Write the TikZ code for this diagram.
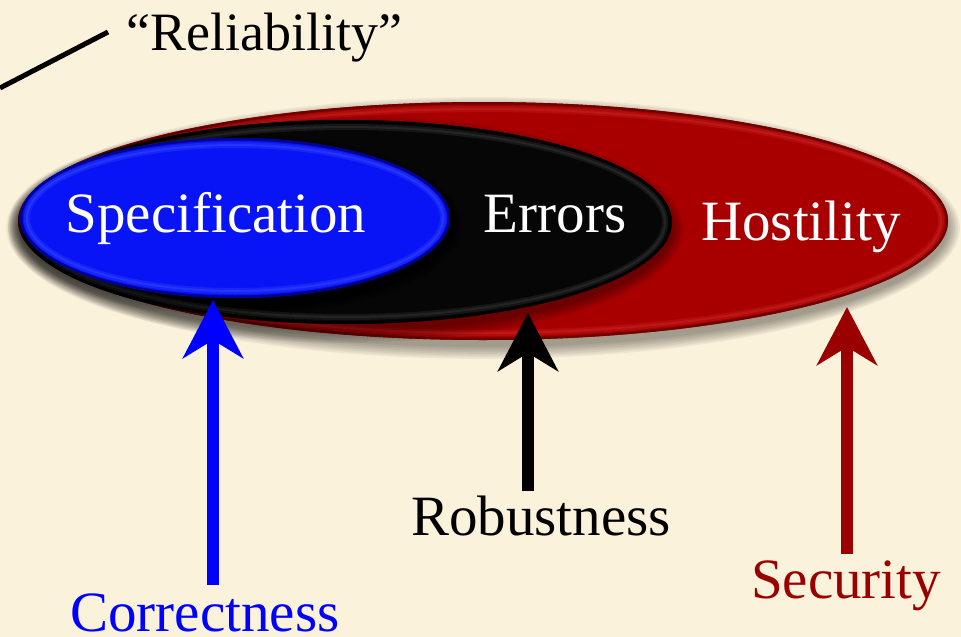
\documentclass[tikz,border=0pt]{standalone}
\usepackage{fontspec}
\setmainfont{Liberation Serif}
\usetikzlibrary{arrows.meta,shapes.geometric}
\definecolor{bg}{RGB}{251,242,220}
\definecolor{hred}{RGB}{168,0,0}
\definecolor{hredlight}{RGB}{215,50,50}
\definecolor{hreddark}{RGB}{110,0,0}
\definecolor{eblack}{RGB}{6,6,6}
\definecolor{eblacklight}{RGB}{70,70,70}
\definecolor{sblue}{RGB}{8,20,245}
\definecolor{sbluelight}{RGB}{70,90,255}
\definecolor{sbluedark}{RGB}{0,0,150}
\definecolor{secred}{RGB}{155,0,0}
\definecolor{corblue}{RGB}{0,0,255}
\newcommand\glossell[8]{% name, cx, cy, rx, ry, base, light, dark
  \foreach \k in {0,...,7}{
    \fill[black,opacity=0.05] (#2,#3+7) ellipse ({#4+\k*1.7} and {#5+\k*1.7});
  }
  \node[ellipse, fill=#6, draw=none, inner sep=0pt, outer sep=0pt,
        minimum width={2*#4 pt}, minimum height={2*#5 pt}] (#1) at (#2,#3) {};
  \begin{scope}
    \clip (#2,#3) ellipse ({#4} and {#5});
    \draw[#8, line width=5pt] (#2,#3) ellipse ({#4} and {#5});
    \draw[#7, line width=6pt, opacity=0.25] (#2,#3) ellipse ({#4-7} and {#5-7});
    \draw[#7, line width=2pt, opacity=0.3] (#2,#3) ellipse ({#4-7} and {#5-7});
  \end{scope}
}
\tikzset{
  lbl/.style={inner sep=0pt, anchor=base, font=\fontsize{57}{66}\selectfont},
  inlbl/.style={lbl, text=white},
  bigarrow/.style={line width=12pt,
    -{Stealth[length=58pt, width=60pt, inset=18pt]}}
}
\begin{document}
\begin{tikzpicture}[x=1pt,y=-1pt]
\useasboundingbox[fill=bg] (0,0) rectangle (961,637);

% ellipses
\glossell{host}{483}{221}{465}{119}{hred}{hredlight}{hreddark}
\glossell{err}{346}{222}{326}{102}{eblack}{eblacklight}{black}
\glossell{spec}{235}{218}{215}{80}{sblue}{sbluelight}{sbluedark}

% texts inside
\node[inlbl] (tspec) at (216,232) {Specification};
\node[inlbl] (terr) at (555,232) {Errors};
\node[inlbl] (thost) at (801,240) {Hostility};

% labels
\node[lbl, font=\fontsize{54}{62}\selectfont] (rel) at (264,50) {“Reliability”};
\node[lbl, text=corblue] (corr) at (205,631) {Correctness};
\node[lbl, text=black] (rob) at (541,535) {Robustness};
\node[lbl, text=secred] (sec) at (846,598) {Security};

% arrow tips on ellipse borders
\coordinate (tipC) at (213,300);
\coordinate (tipR) at (528,313);
\coordinate (tipS) at (847,307);
\coordinate (rl0) at (0,88);
\coordinate (rl1) at (108,32);

\draw[bigarrow, corblue, shorten <=8pt] (corr.north -| tipC) -- (tipC);
\draw[bigarrow, black, shorten <=4pt] (rob.north -| tipR) -- (tipR);
\draw[bigarrow, secred, shorten <=6pt] (sec.north -| tipS) -- (tipS);

\draw[line width=5pt, black] (rl0) -- (rl1);
\end{tikzpicture}
\end{document}
